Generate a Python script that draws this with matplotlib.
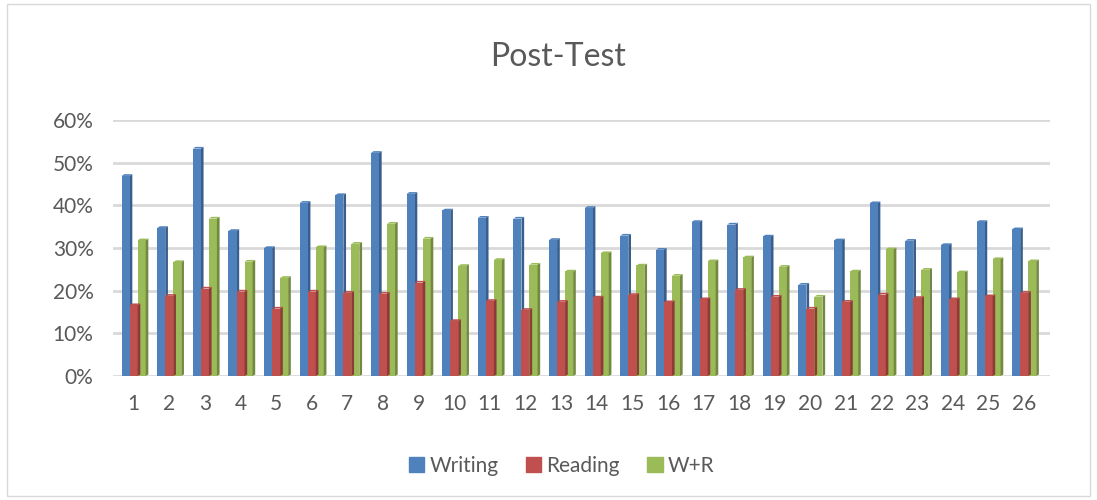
import matplotlib
matplotlib.use("Agg")
import matplotlib.pyplot as plt
import numpy as np
from matplotlib.patches import Rectangle, Polygon

categories = [str(i) for i in range(1, 27)]
writing = [46.9, 34.7, 53.3, 34.0, 30.0, 40.6, 42.4, 52.3, 42.7, 38.8, 37.1, 36.9, 31.9,
           39.4, 32.9, 29.6, 36.1, 35.5, 32.7, 21.4, 31.8, 40.5, 31.7, 30.7, 36.1, 34.4]
reading = [16.6, 18.8, 20.5, 19.8, 15.8, 19.8, 19.5, 19.3, 21.9, 12.9, 17.6, 15.5, 17.4,
           18.4, 19.0, 17.3, 18.0, 20.2, 18.6, 15.8, 17.4, 19.1, 18.3, 18.0, 18.7, 19.5]
wr = [31.8, 26.7, 36.9, 26.8, 23.0, 30.2, 31.0, 35.7, 32.2, 25.8, 27.2, 26.1, 24.5,
      28.8, 25.9, 23.5, 26.9, 27.8, 25.6, 18.6, 24.5, 29.7, 24.9, 24.3, 27.4, 26.9]
series_names = ["Writing", "Reading", "W+R"]
yticks = [0, 10, 20, 30, 40, 50, 60]

front_colors = ["#4F81BD", "#C0504D", "#9BBB59"]
side_colors = ["#375E8C", "#8E3A38", "#72893F"]
text_color = "#595959"
font = ["Lato", "DejaVu Sans"]

fig = plt.figure(figsize=(10.97, 5.0), dpi=100)
# outer border
fig.patches.append(Rectangle((0.006, 0.008), 0.988, 0.984, transform=fig.transFigure,
                             fill=False, edgecolor="#D9D9D9", linewidth=1.0))

ax = fig.add_axes([0.103, 0.248, 0.854, 0.512])
x = np.arange(len(categories))
bw = 0.225
side = 0.075
depth = 0.4

for i in yticks:
    ax.axhline(i, color="#D9D9D9", linewidth=2.0, zorder=0)

for k, vals in enumerate([writing, reading, wr]):
    offs = (k - 1) * bw
    ax.bar(x + offs, vals, width=bw, color=front_colors[k], zorder=3,
           edgecolor="none", label=series_names[k])
    for xi, v in zip(x, vals):
        left = xi + offs + bw / 2
        poly = Polygon([(left, 0), (left + side, 0.35), (left + side, v + depth),
                        (left, v)], closed=True, facecolor=side_colors[k],
                       edgecolor="none", zorder=2.5 + k)
        ax.add_patch(poly)
        top = Polygon([(left - bw, v), (left - bw + side, v + depth),
                       (left + side, v + depth), (left, v)], closed=True,
                      facecolor=front_colors[k], edgecolor="none", zorder=2.5 + k)
        ax.add_patch(top)

ax.set_xlim(-0.58, 25.72)
ax.set_ylim(0, 60)
ax.set_yticks(yticks)
ax.set_yticklabels([f"{t}%" for t in yticks])
ax.set_xticks(x)
ax.set_xticklabels(categories)
for s in ax.spines.values():
    s.set_visible(False)
ax.tick_params(length=0, colors=text_color, labelsize=15)
ax.tick_params(axis="y", pad=14)
ax.tick_params(axis="x", pad=13)
for lab in ax.get_xticklabels() + ax.get_yticklabels():
    lab.set_family(font)

fig.text(0.509, 0.886, "Post-Test", ha="center", va="center", fontsize=23,
         color=text_color, family=font)

handles = [Rectangle((0, 0), 1, 1, color=c) for c in front_colors]
leg = fig.legend(handles, series_names, loc="center", bbox_to_anchor=(0.512, 0.068),
                 ncol=3, frameon=False, handlelength=0.75,
                 handleheight=0.75, handletextpad=0.25, columnspacing=1.3,
                 prop={"family": font, "size": 15})
for t in leg.get_texts():
    t.set_color(text_color)

fig.savefig("out.png", dpi=100)
